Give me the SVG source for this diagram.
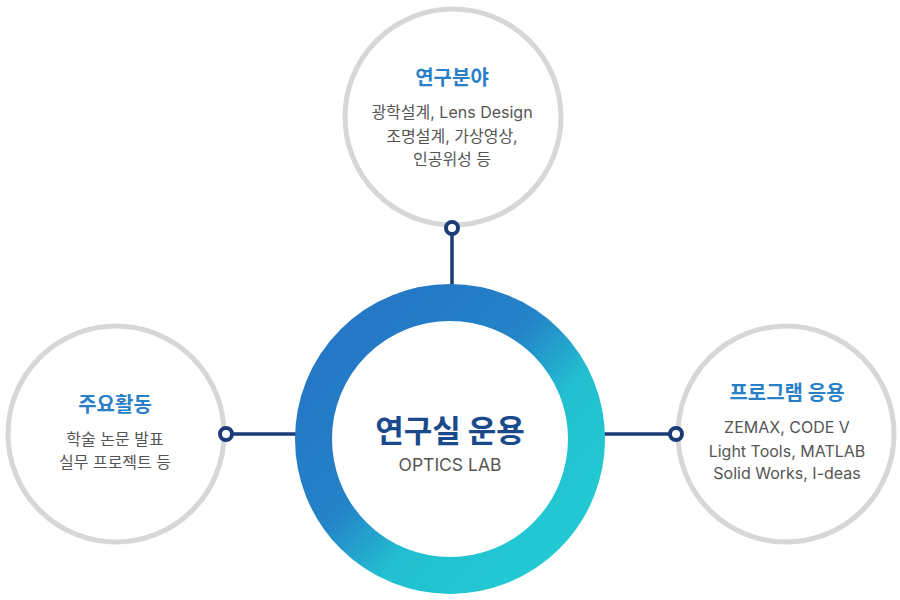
<svg xmlns="http://www.w3.org/2000/svg" width="900" height="600" viewBox="0 0 900 600">
<defs>
<linearGradient id="ringGrad" x1="0.15" y1="0.15" x2="0.85" y2="0.85">
<stop offset="0" stop-color="#2478c6"/>
<stop offset="0.4" stop-color="#2483c8"/>
<stop offset="0.68" stop-color="#22bfd0"/>
<stop offset="1" stop-color="#22c8d2"/>
</linearGradient>
<style>
.sat{fill:#ffffff;stroke:#d7d7d7;stroke-width:5}
.title{font-family:Inter,"Noto Sans CJK KR","Noto Sans",sans-serif;font-size:20px;font-weight:700;fill:#2a80c8;text-anchor:middle}
.body{font-family:Inter,"Noto Sans CJK KR","Noto Sans",sans-serif;font-size:16px;fill:#555555;text-anchor:middle}
.conn{stroke:#1b3a78;stroke-width:3.5;fill:none}
.dot{fill:#ffffff;stroke:#1b3a78;stroke-width:4}
</style>
</defs>
<rect width="900" height="600" fill="#ffffff"/>
<g id="connectors">
<line class="conn" x1="452" y1="234" x2="452" y2="286"/>
<line class="conn" x1="232" y1="434" x2="297" y2="434"/>
<line class="conn" x1="604" y1="434" x2="670" y2="434"/>
</g>
<g id="node-top">
<circle class="sat" cx="453" cy="117" r="108"/>
<text class="title" x="452" y="85">연구분야</text>
<text class="body" x="452" y="118">광학설계, Lens Design</text>
<text class="body" x="452" y="142">조명설계, 가상영상,</text>
<text class="body" x="452" y="165">인공위성 등</text>
</g>
<g id="node-left">
<circle class="sat" cx="116" cy="434" r="108"/>
<text class="title" x="115" y="412">주요활동</text>
<text class="body" x="115" y="445">학술 논문 발표</text>
<text class="body" x="115" y="468">실무 프로젝트 등</text>
</g>
<g id="node-right">
<circle class="sat" cx="786" cy="434" r="108"/>
<text class="title" x="787" y="400">프로그램 응용</text>
<text class="body" x="787" y="433">ZEMAX, CODE V</text>
<text class="body" x="787" y="457">Light Tools, MATLAB</text>
<text class="body" x="787" y="479">Solid Works, I-deas</text>
</g>
<g id="node-center">
<circle cx="450" cy="439" r="136.5" fill="#ffffff" stroke="url(#ringGrad)" stroke-width="37"/>
<text x="450" y="442" font-family="'Noto Sans CJK KR','Noto Sans',sans-serif" font-size="31" font-weight="700" fill="#1b4a8c" text-anchor="middle">연구실 운용</text>
<text x="450" y="471" font-family="Inter,'Noto Sans CJK KR',sans-serif" font-size="17.5" fill="#555555" text-anchor="middle">OPTICS LAB</text>
</g>
<g id="dots">
<circle class="dot" cx="452" cy="228" r="6"/>
<circle class="dot" cx="226" cy="434" r="6"/>
<circle class="dot" cx="676" cy="434" r="6"/>
</g>
</svg>
